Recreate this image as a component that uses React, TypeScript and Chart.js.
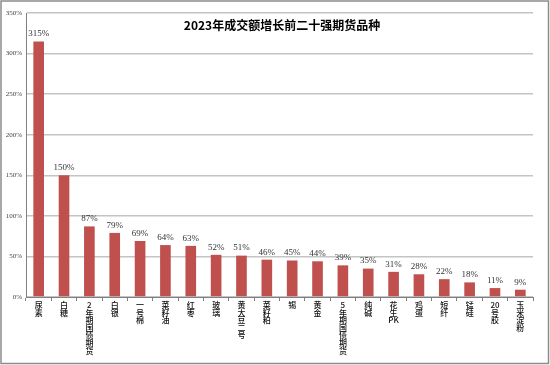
import React, { useEffect, useRef } from "react";
import { Chart, registerables } from "chart.js";

Chart.register(...registerables);

const categories = ["尿素", "白糖", "2年期国债期货", "白银", "一号棉", "菜籽油", "红枣", "玻璃", "黄大豆二号", "菜籽粕", "锡", "黄金", "5年期国债期货", "纯碱", "花生PK", "鸡蛋", "短纤", "锰硅", "20号胶", "玉米淀粉"];
const growth = [315, 150, 87, 79, 69, 64, 63, 52, 51, 46, 45, 44, 39, 35, 31, 28, 22, 18, 11, 9];
const yTicks = [0, 50, 100, 150, 200, 250, 300, 350];
const title = "2023年成交额增长前二十强期货品种";

function splitVertical(s: string): string[] {
  const out: string[] = [];
  let buf = "";
  for (const ch of s) {
    if (/[A-Za-z0-9]/.test(ch)) {
      buf += ch;
    } else {
      if (buf) { out.push(buf); buf = ""; }
      out.push(ch);
    }
  }
  if (buf) out.push(buf);
  return out;
}

const serif = "'Liberation Serif', 'DejaVu Serif', 'Noto Sans CJK SC', serif";

export default function App() {
  const ref = useRef<HTMLCanvasElement | null>(null);
  useEffect(() => {
    document.body.style.margin = "0";
    const canvas = ref.current!;
    const labelsPlugin = {
      id: "extras",
      afterDatasetsDraw(chart: any) {
        const ctx = chart.ctx;
        const meta = chart.getDatasetMeta(0);
        ctx.save();
        ctx.fillStyle = "#333";
        ctx.font = `9px ${serif}`;
        ctx.textAlign = "center";
        ctx.textBaseline = "bottom";
        meta.data.forEach((bar: any, i: number) => {
          ctx.fillText(growth[i] + "%", bar.x, bar.y - 3);
        });
        // vertical category labels
        const xs = chart.scales.x;
        ctx.fillStyle = "#111";
        ctx.font = "500 8px 'Noto Sans CJK SC', sans-serif";
        ctx.textBaseline = "middle";
        categories.forEach((c, i) => {
          const x = xs.getPixelForValue(i);
          splitVertical(c).forEach((part, k) => {
            ctx.fillText(part, x, xs.top + 8 + k * 7.6);
          });
        });
        ctx.restore();
      },
      afterDraw(chart: any) {
        const ctx = chart.ctx;
        ctx.save();
        ctx.fillStyle = "#000";
        ctx.font = "bold 12px 'Noto Sans CJK SC', sans-serif";
        ctx.textAlign = "center";
        ctx.textBaseline = "middle";
        ctx.fillText(title, 282, 25);
        ctx.strokeStyle = "#8c8c8c";
        ctx.lineWidth = 1.5;
        ctx.strokeRect(1, 1, 547.5, 362.5);
        ctx.restore();
      },
    };
    const chart = new Chart(canvas, {
      type: "bar",
      data: {
        labels: categories,
        datasets: [
          {
            data: growth,
            backgroundColor: "#c0504d",
            borderColor: "#c0504d",
            borderWidth: 0,
            barPercentage: 0.42,
            categoryPercentage: 1,
          },
        ],
      },
      options: {
        animation: false,
        responsive: false,
        devicePixelRatio: 1,
        layout: { padding: { left: 1, top: 13, right: 17, bottom: 2 } },
        plugins: { legend: { display: false }, title: { display: false }, tooltip: { enabled: false } },
        scales: {
          x: {
            grid: { offset: true, drawOnChartArea: false, drawTicks: true, tickLength: 4, color: "#808080" },
            border: { color: "#808080", width: 1 },
            ticks: {
              maxRotation: 0,
              minRotation: 0,
              autoSkip: false,
              callback: () => "",
            },
            afterFit(scale: any) { scale.height = 66; },
          },
          y: {
            min: 0,
            max: 350,
            afterBuildTicks(scale: any) { scale.ticks = yTicks.map((v) => ({ value: v })); },
            grid: { color: "#c4c4c4", lineWidth: 1.5, drawTicks: false },
            border: { color: "#808080", width: 1 },
            ticks: {
              padding: 4,
              color: "#444",
              font: { size: 7, family: serif },
              callback: (v: any) => v + "%",
            },
            afterFit(scale: any) { scale.width = 25; },
          },
        },
      },
      plugins: [labelsPlugin],
    });
    return () => chart.destroy();
  }, []);
  return <canvas ref={ref} width={550} height={365} style={{ display: "block" }} />;
}
